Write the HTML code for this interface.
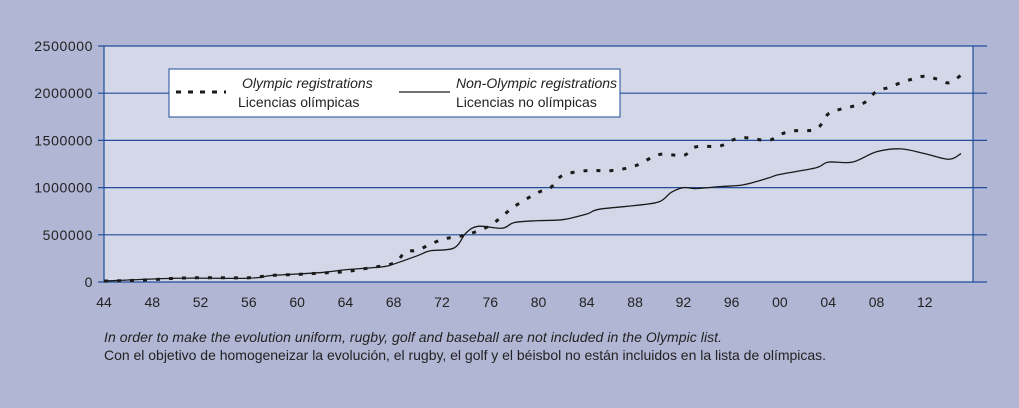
<!DOCTYPE html>
<html><head><meta charset="utf-8"><style>
body{margin:0;background:#b1b6d4;}
svg{display:block;font-family:"Liberation Sans",sans-serif;}
</style></head><body>
<svg width="1019" height="408" viewBox="0 0 1019 408">
<rect width="1019" height="408" fill="#b1b6d4"/>
<rect x="104" y="46" width="869" height="236" fill="#d4d7e8"/>
<g id="grid"></g>
<g id="xticks"></g>
<path id="nonoly" fill="none" stroke="#1a1a1a" stroke-width="1.3"/>
<path id="oly" fill="none" stroke="#1a1a1a" stroke-width="3" stroke-dasharray="4,9"/>
<g>
<rect x="169" y="69" width="451" height="48" fill="#fff" stroke="#1f4e9a" stroke-width="1"/>
<line x1="176" y1="92" x2="226" y2="92" stroke="#1a1a1a" stroke-width="3" stroke-dasharray="5,7"/>
<text x="242" y="88" font-size="14" font-style="italic" fill="#222">Olympic registrations</text>
<text x="238" y="107" font-size="14" fill="#222">Licencias olímpicas</text>
<line x1="399" y1="92" x2="450" y2="92" stroke="#1a1a1a" stroke-width="1.2"/>
<text x="456" y="88" font-size="14" font-style="italic" fill="#222">Non-Olympic registrations</text>
<text x="456" y="107" font-size="14" fill="#222">Licencias no olímpicas</text>
</g>
<text x="104" y="342" font-size="14" font-style="italic" fill="#222" textLength="618">In order to make the evolution uniform, rugby, golf and baseball are not included in the Olympic list.</text>
<text x="104" y="360" font-size="14" fill="#222" textLength="722">Con el objetivo de homogeneizar la evolución, el rugby, el golf y el béisbol no están incluidos en la lista de olímpicas.</text>
</svg>
<script>
const yTicks=[0,500000,1000000,1500000,2000000,2500000];
const xTickLabels=["44","48","52","56","60","64","68","72","76","80","84","88","92","96","00","04","08","12"];
const xTickYears=[1944,1948,1952,1956,1960,1964,1968,1972,1976,1980,1984,1988,1992,1996,2000,2004,2008,2012];
const olyYears=[1944,1946,1948,1950,1952,1954,1956,1958,1960,1962,1964,1966,1968,1969,1970,1972,1974,1976,1978,1980,1981,1982,1984,1986,1988,1990,1992,1993,1995,1996,1997,1999,2000,2001,2003,2004,2005,2006,2007,2008,2009,2010,2011,2012,2013,2014,2015];
const olyValues=[10000,15000,25000,40000,45000,45000,45000,70000,80000,95000,110000,150000,200000,320000,340000,450000,500000,600000,800000,950000,1000000,1130000,1180000,1180000,1230000,1350000,1340000,1430000,1440000,1500000,1530000,1500000,1560000,1600000,1620000,1780000,1830000,1860000,1900000,2020000,2060000,2110000,2150000,2180000,2150000,2110000,2190000];
const nonYears=[1944,1950,1956,1958,1962,1964,1967,1968,1970,1971,1973,1974,1975,1977,1978,1980,1982,1984,1985,1988,1990,1991,1992,1993,1995,1997,1999,2000,2003,2004,2006,2008,2010,2012,2014,2015];
const nonValues=[10000,40000,40000,70000,100000,130000,160000,190000,280000,330000,360000,520000,590000,570000,630000,650000,660000,720000,770000,810000,850000,950000,1000000,990000,1010000,1030000,1100000,1140000,1210000,1270000,1270000,1380000,1410000,1360000,1300000,1360000];
const X=yr=>104+(yr-1944)*12.07;
const Y=v=>282-v/2500000*236;
const NS="http://www.w3.org/2000/svg";
const grid=document.getElementById('grid');
yTicks.forEach(v=>{
  const l=document.createElementNS(NS,'line');
  l.setAttribute('x1',98);l.setAttribute('x2',987);l.setAttribute('y1',Y(v));l.setAttribute('y2',Y(v));
  l.setAttribute('stroke','#1f4e9a');l.setAttribute('stroke-width','1.2');
  
  
  grid.appendChild(l);
  const t=document.createElementNS(NS,'text');
  t.setAttribute('x',93);t.setAttribute('y',Y(v)+5);t.setAttribute('text-anchor','end');
  t.setAttribute('font-size','14');t.setAttribute('letter-spacing','0.6');t.setAttribute('fill','#222');t.textContent=v;
  
  
  grid.appendChild(t);
});
[[104,46,104,282],[973,46,973,282]].forEach(a=>{
  const l=document.createElementNS(NS,'line');
  l.setAttribute('x1',a[0]);l.setAttribute('y1',a[1]);l.setAttribute('x2',a[2]);l.setAttribute('y2',a[3]);
  l.setAttribute('stroke','#1f4e9a');l.setAttribute('stroke-width','1.2');
  
  
  grid.appendChild(l);
});
const xt=document.getElementById('xticks');
xTickLabels.forEach((s,i)=>{
  const t=document.createElementNS(NS,'text');
  t.setAttribute('x',X(xTickYears[i]));t.setAttribute('y',307);t.setAttribute('text-anchor','middle');
  t.setAttribute('font-size','14');t.setAttribute('fill','#222');t.textContent=s;
  
  
  xt.appendChild(t);
});
function smooth(xs,vs){
  const p=xs.map((x,i)=>[X(x),Y(vs[i])]);
  let d='M'+p[0][0]+','+p[0][1];
  for(let i=0;i<p.length-1;i++){
    const p0=p[i-1]||p[i],p1=p[i],p2=p[i+1],p3=p[i+2]||p2;
    const c1=[p1[0]+(p2[0]-p0[0])/6,p1[1]+(p2[1]-p0[1])/6];
    const c2=[p2[0]-(p3[0]-p1[0])/6,p2[1]-(p3[1]-p1[1])/6];
    d+=' C'+c1+' '+c2+' '+p2;
  }
  return d;
}
document.getElementById('nonoly').setAttribute('d',smooth(nonYears,nonValues));
document.getElementById('oly').setAttribute('d',smooth(olyYears,olyValues));
</script>
</body></html>
